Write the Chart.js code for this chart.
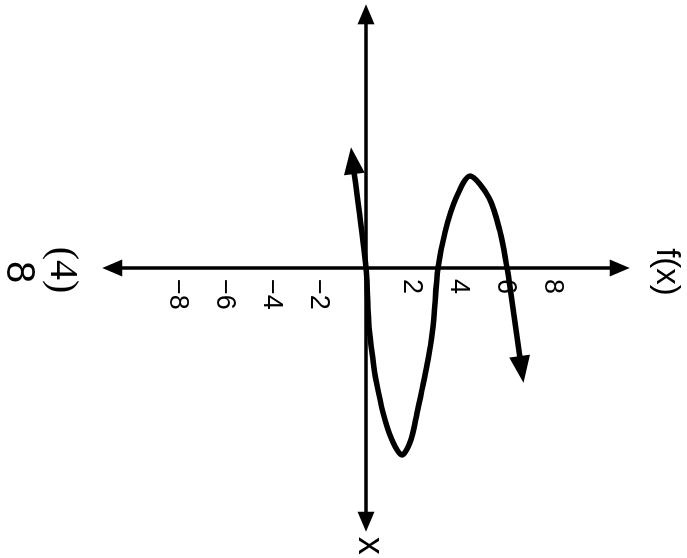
<!DOCTYPE html>
<html>
<head>
<meta charset="utf-8">
<title>f(x)</title>
<script src="https://cdn.jsdelivr.net/npm/chart.js@4.4.0/dist/chart.umd.min.js"></script>
<style>
  body { margin: 0; background: #fff; }
  #frame { position: relative; width: 687px; height: 558px; overflow: hidden; background: #fff; }
  /* the graph is drawn upright, then turned a quarter turn clockwise like the picture */
  #turn { position: absolute; left: 0; top: 0; width: 558px; height: 687px;
          transform-origin: 0 0; transform: translateX(687px) rotate(90deg); }
</style>
</head>
<body>
<div id="frame">
  <div id="turn">
    <canvas id="myChart" width="558" height="687"></canvas>
  </div>
</div>
<script>
// curve, in graph units (x across, f(x) up)
let curveX = [-4.10, 0, 2.52, 3.93, 4.79, 6.20, 7.35, 7.99, 7.35, 6.20, 3.93, 2.52, 0, -1.54, -2.99, -3.93, -2.99, -1.54, 0, 0.51, 3.85];
let curveF = [-0.51, 0, 0.13, 0.30, 0.43, 0.73, 1.11, 1.54, 1.92, 2.18, 2.65, 2.86, 3.08, 3.38, 3.85, 4.44, 5.26, 5.73, 6.03, 6.11, 6.58];

// labels on the f(x) axis
let tickValues = [-8, -6, -4, -2, 2, 4, 6, 8];
let tickLabels = ['\u22128', '\u22126', '\u22124', '\u22122', '2', '4', '6', '8'];

let axisReach = 11.27;

let points = [];
for (let i = 0; i < curveX.length; i++) {
  points.push({ x: curveX[i], y: curveF[i] });
}

function arrowHead(c, tipX, tipY, dx, dy, len, half) {
  let d = Math.sqrt(dx * dx + dy * dy);
  let ux = dx / d;
  let uy = dy / d;
  let bx = tipX - ux * len;
  let by = tipY - uy * len;
  c.beginPath();
  c.moveTo(tipX, tipY);
  c.lineTo(bx - uy * half, by + ux * half);
  c.lineTo(bx + uy * half, by - ux * half);
  c.closePath();
  c.fill();
}

const axesPlugin = {
  id: 'axesPlugin',
  beforeDatasetsDraw(chart) {
    let c = chart.ctx;
    let xs = chart.scales.x;
    let ys = chart.scales.y;
    let ox = xs.getPixelForValue(0);
    let oy = ys.getPixelForValue(0);
    let left = xs.getPixelForValue(-axisReach);
    let right = xs.getPixelForValue(axisReach);
    let top = ys.getPixelForValue(axisReach);
    let bottom = ys.getPixelForValue(-axisReach);

    c.save();
    c.strokeStyle = '#000';
    c.fillStyle = '#000';
    c.lineWidth = 3.5;
    c.beginPath();
    c.moveTo(left + 10, oy);
    c.lineTo(right - 10, oy);
    c.moveTo(ox, top + 10);
    c.lineTo(ox, bottom - 10);
    c.stroke();
    arrowHead(c, left, oy, -1, 0, 20, 8.5);
    arrowHead(c, right, oy, 1, 0, 20, 8.5);
    arrowHead(c, ox, top, 0, -1, 20, 8.5);
    arrowHead(c, ox, bottom, 0, 1, 20, 8.5);

    c.font = '27px "Liberation Sans", Arial, sans-serif';
    c.textAlign = 'left';
    c.textBaseline = 'middle';
    for (let i = 0; i < tickValues.length; i++) {
      c.fillText(tickLabels[i], ox + 11, ys.getPixelForValue(tickValues[i]) + 1);
    }

    c.textAlign = 'center';
    c.font = '33px "Liberation Sans", Arial, sans-serif';
    c.fillText('f(x)', ox + 4, top - 36);
    c.font = '36px "Liberation Sans", Arial, sans-serif';
    c.fillText('x', right + 14, oy - 3);
    c.font = '40px "Liberation Serif", "Times New Roman", serif';
    c.fillText('(4)', ox + 2, bottom + 41);
    c.font = '40px "Liberation Sans", Arial, sans-serif';
    c.fillText('8', ox + 4, bottom + 84);
    c.restore();
  },
  afterDatasetsDraw(chart) {
    // arrow tips at both ends of the curve
    let c = chart.ctx;
    let pts = chart.getDatasetMeta(0).data;
    let n = pts.length;
    c.save();
    c.fillStyle = '#000';
    let a = pts[0], b = pts[1];
    let dx = a.x - b.x, dy = a.y - b.y;
    let d = Math.sqrt(dx * dx + dy * dy);
    arrowHead(c, a.x + dx / d * 25, a.y + dy / d * 25, dx, dy, 27, 10.5);
    a = pts[n - 1];
    b = pts[n - 2];
    dx = a.x - b.x;
    dy = a.y - b.y;
    d = Math.sqrt(dx * dx + dy * dy);
    arrowHead(c, a.x + dx / d * 25, a.y + dy / d * 25, dx, dy, 27, 10.5);
    c.restore();
  }
};

let ctx = document.getElementById('myChart').getContext('2d');
let myChart = new Chart(ctx, {
  type: 'scatter',
  data: {
    datasets: [{
      label: 'f(x)',
      data: points,
      showLine: true,
      borderColor: '#000',
      borderWidth: 5.5,
      tension: 0.3,
      pointRadius: 0,
      pointHoverRadius: 0,
      fill: false
    }]
  },
  options: {
    responsive: false,
    animation: false,
    devicePixelRatio: 1,
    layout: { padding: 0 },
    plugins: {
      legend: { display: false },
      tooltip: { enabled: false }
    },
    scales: {
      x: { type: 'linear', display: false, min: -11.453, max: 12.393 },
      y: { type: 'linear', display: false, min: -15.641, max: 13.718 }
    }
  },
  plugins: [axesPlugin]
});
</script>
</body>
</html>
